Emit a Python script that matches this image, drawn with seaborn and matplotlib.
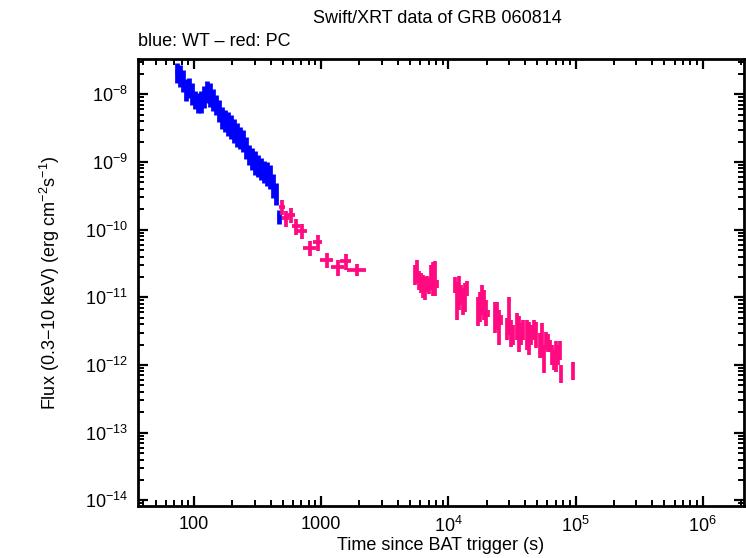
import numpy as np
import pandas as pd
import matplotlib
matplotlib.use('Agg')
import matplotlib.pyplot as plt
import matplotlib.ticker as mticker
import seaborn as sns

# WT mode (blue) - time (s), time half-bin, flux and flux error (erg cm^-2 s^-1)
wt_time = [73.5, 77.6, 81.9, 86.5, 91.3, 96.4, 101.8, 107.5, 113.5, 119.8, 126.5, 133.6,
           141.0, 148.9, 157.2, 166.0, 175.2, 185.0, 195.3, 206.2, 217.7, 229.8, 242.7,
           256.2, 270.5, 285.5, 301.5, 318.3, 336.0, 354.8, 374.5, 395.4, 417.5, 440.8, 465.4]
wt_time_err = [2.0, 2.1, 2.3, 2.4, 2.5, 2.7, 2.8, 3.0, 3.2, 3.3, 3.5, 3.7, 3.9, 4.1, 4.4,
               4.6, 4.9, 5.1, 5.4, 5.7, 6.0, 6.4, 6.7, 7.1, 7.5, 7.9, 8.4, 8.8, 9.3, 9.8,
               10.4, 11.0, 11.6, 12.2, 12.9]
wt_flux = [2.16e-8, 1.975e-8, 1.665e-8, 1.227e-8, 1.297e-8, 1.071e-8, 8.54e-9, 7.80e-9,
           8.16e-9, 9.67e-9, 1.146e-8, 1.049e-8, 8.74e-9, 7.28e-9, 6.01e-9, 4.74e-9,
           4.27e-9, 3.91e-9, 3.53e-9, 3.08e-9, 2.69e-9, 2.395e-9, 2.165e-9, 1.705e-9,
           1.33e-9, 1.17e-9, 1.035e-9, 9.25e-10, 8.35e-10, 7.54e-10, 7.13e-10, 6.44e-10,
           4.74e-10, 3.57e-10, 1.565e-10]
wt_flux_err = [7.1e-9, 7.05e-9, 5.95e-9, 4.39e-9, 4.24e-9, 3.83e-9, 2.54e-9, 2.56e-9,
               2.92e-9, 3.46e-9, 4.1e-9, 4.06e-9, 3.12e-9, 2.38e-9, 2.15e-9, 1.70e-9,
               1.53e-9, 1.51e-9, 1.37e-9, 1.19e-9, 1.04e-9, 8.55e-10, 7.75e-10, 6.1e-10,
               4.35e-10, 4.2e-10, 4.0e-10, 3.3e-10, 3.0e-10, 2.7e-10, 2.76e-10, 2.49e-10,
               1.84e-10, 1.28e-10, 3.65e-11]

# PC mode (red)
pc_time = [491, 528, 578, 633, 705, 815, 942, 1109, 1353, 1563, 1907,
           5447, 5648, 5856, 6071, 6295, 6527, 6767, 7015, 7274, 7543, 7821, 8109,
           11228, 11641, 12069, 12513, 12974, 13451, 13946,
           17022, 17649, 18297, 18971, 19668, 20392,
           23144, 23996, 24878, 25792,
           28760, 29817, 30914, 32050,
           34452, 35720, 37032, 38393,
           41296, 42814, 44389, 46862, 48586,
           52240, 54161, 56152, 58216, 60357, 62576,
           64876, 67298, 69774, 72339, 74998, 76364, 94890]
pc_time_err = [27, 34, 43, 47, 66, 93, 80, 136, 166, 147, 325,
               40, 40, 45, 45, 50, 50, 50, 55, 55, 55, 60, 60,
               80, 85, 85, 90, 95, 95, 100,
               120, 125, 130, 135, 140, 145,
               160, 170, 175, 180,
               200, 210, 215, 225,
               240, 250, 260, 270,
               290, 300, 310, 330, 340,
               370, 380, 395, 410, 420, 440,
               455, 470, 490, 505, 525, 535, 660]
pc_flux = [2.17e-10, 1.47e-10, 1.65e-10, 1.12e-10, 9.6e-11, 5.39e-11, 6.5e-11, 3.58e-11,
           2.78e-11, 3.42e-11, 2.56e-11,
           2.24e-11, 2.57e-11, 1.85e-11, 1.71e-11, 1.54e-11, 1.44e-11, 1.62e-11, 1.51e-11,
           2.12e-11, 2.16e-11, 2.22e-11, 1.57e-11,
           1.56e-11, 1.06e-11, 1.34e-11, 1.13e-11, 9.5e-12, 1.11e-11, 1.38e-11,
           6.87e-12, 8.07e-12, 1.02e-11, 8.63e-12, 6.38e-12, 5.75e-12,
           5.69e-12, 5.85e-12, 4.19e-12, 4.64e-12,
           3.61e-12, 6.37e-12, 3.20e-12, 2.91e-12,
           4.06e-12, 3.39e-12, 3.04e-12, 3.44e-12,
           3.11e-12, 2.83e-12, 2.91e-12, 3.44e-12, 3.02e-12,
           2.10e-12, 2.69e-12, 1.35e-12, 2.34e-12, 2.19e-12, 1.93e-12,
           1.47e-12, 1.24e-12, 1.51e-12, 1.47e-12, 1.71e-12, 7.63e-13, 8.45e-13]
pc_flux_err = [5.4e-11, 3.9e-11, 4.1e-11, 3.0e-11, 2.4e-11, 1.35e-11, 1.74e-11, 9.0e-12,
               7.4e-12, 9.0e-12, 5.2e-12,
               7.3e-12, 9.6e-12, 5.8e-12, 5.6e-12, 5.7e-12, 5.4e-12, 4.3e-12, 4.0e-12,
               8.5e-12, 1.13e-11, 1.19e-11, 2.1e-12,
               4.1e-12, 6.0e-12, 7.0e-12, 3.7e-12, 4.1e-12, 5.0e-12, 3.4e-12,
               3.14e-12, 3.80e-12, 4.8e-12, 4.06e-12, 2.65e-12, 6.8e-13,
               2.75e-12, 2.60e-12, 2.24e-12, 7.8e-13,
               1.29e-12, 3.63e-12, 1.37e-12, 9.5e-13,
               1.74e-12, 1.85e-12, 1.09e-12, 1.13e-12,
               1.46e-12, 1.44e-12, 9.5e-13, 1.13e-12, 1.25e-12,
               8.4e-13, 1.44e-12, 6.0e-13, 7.0e-13, 6.5e-13, 3.9e-13,
               4.8e-13, 4.1e-13, 7.3e-13, 4.8e-13, 5.3e-13, 2.27e-13, 2.51e-13]

wt = pd.DataFrame({'time': wt_time, 'time_err': wt_time_err,
                   'flux': wt_flux, 'flux_err': wt_flux_err})
pc = pd.DataFrame({'time': pc_time, 'time_err': pc_time_err,
                   'flux': pc_flux, 'flux_err': pc_flux_err})

sns.set_theme(style='ticks')
plt.rcParams['font.family'] = ['Liberation Sans', 'DejaVu Sans']
plt.rcParams['mathtext.fontset'] = 'custom'
plt.rcParams['mathtext.rm'] = 'Liberation Sans'
plt.rcParams['mathtext.it'] = 'Liberation Sans:italic'
plt.rcParams['mathtext.default'] = 'regular'

fig = plt.figure(figsize=(7.46, 5.58), dpi=100)
ax = fig.add_axes([0.185, 0.093, 0.812, 0.801])

ax.errorbar(wt['time'], wt['flux'], xerr=wt['time_err'], yerr=wt['flux_err'],
            fmt='none', ecolor='#0000ff', elinewidth=3.4, capsize=0)
ax.errorbar(pc['time'], pc['flux'], xerr=pc['time_err'], yerr=pc['flux_err'],
            fmt='none', ecolor='#ff0a80', elinewidth=2.7, capsize=0)

ax.set_xscale('log')
ax.set_yscale('log')
ax.set_xlim(36.3, 2.1e6)
ax.set_ylim(8.2e-15, 3.3e-8)


def xfmt(v, pos):
    e = int(round(np.log10(v)))
    if e <= 3:
        return str(int(round(v)))
    return r'$10^{%d}$' % e


def yfmt(v, pos):
    e = int(round(np.log10(v)))
    return r'$10^{%d}$' % e


ax.xaxis.set_major_locator(mticker.FixedLocator([1e2, 1e3, 1e4, 1e5, 1e6]))
ax.xaxis.set_minor_locator(mticker.LogLocator(base=10, subs=np.arange(2, 10), numticks=20))
ax.yaxis.set_major_locator(mticker.FixedLocator([1e-14, 1e-13, 1e-12, 1e-11, 1e-10, 1e-9, 1e-8]))
ax.yaxis.set_minor_locator(mticker.LogLocator(base=10, subs=np.arange(2, 10), numticks=20))
ax.xaxis.set_major_formatter(mticker.FuncFormatter(xfmt))
ax.yaxis.set_major_formatter(mticker.FuncFormatter(yfmt))
ax.xaxis.set_minor_formatter(mticker.NullFormatter())
ax.yaxis.set_minor_formatter(mticker.NullFormatter())

ax.tick_params(which='both', direction='in', top=True, right=True, color='black',
               labelsize=13, labelcolor='black')
ax.tick_params(which='major', length=7, width=1.6, pad=7)
ax.tick_params(which='minor', length=4, width=1.4)
for s in ax.spines.values():
    s.set_linewidth(2.0)
    s.set_color('black')

ax.set_xlabel('Time since BAT trigger (s)', fontsize=13, color='black', labelpad=1)
ax.set_ylabel(r'Flux (0.3$-$10 keV) (erg cm$^{-2}$s$^{-1}$)', fontsize=13,
              color='black', labelpad=17)

fig.text(0.586, 0.967, 'Swift/XRT data of GRB 060814', ha='center', va='center',
         fontsize=13, color='black')
fig.text(0.185, 0.925, 'blue: WT \u2013 red: PC', ha='left', va='center',
         fontsize=13, color='black')

fig.savefig('out.png', dpi=100)
